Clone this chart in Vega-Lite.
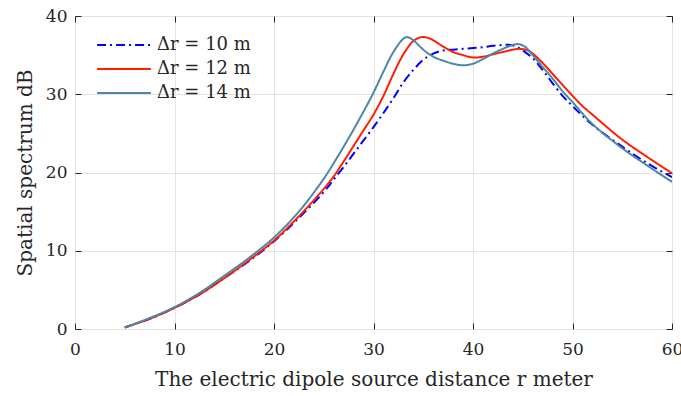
{
  "$schema": "https://vega.github.io/schema/vega-lite/v6.json",
  "autosize": "none",
  "width": 597,
  "height": 313,
  "padding": {"left": 75, "top": 16, "right": 9, "bottom": 67},
  "background": "white",
  "config": {
    "view": {"stroke": "#262626", "strokeWidth": 1},
    "font": "DejaVu Serif",
    "axis": {"labelFont": "DejaVu Serif", "titleFont": "DejaVu Serif", "labelColor": "#262626", "titleColor": "#262626", "titleFontWeight": "normal", "labelFontSize": 17, "titleFontSize": 20, "gridColor": "#e3e3e3", "gridWidth": 1, "domain": false, "tickColor": "#262626", "tickSize": -6, "labelFlush": false, "labelOverlap": false}
  },
  "datasets": {
    "curves": [
      {"r": 5, "s": 0.2, "series": "Δr = 10 m"},
      {"r": 7.5, "s": 1.3, "series": "Δr = 10 m"},
      {"r": 10, "s": 2.7, "series": "Δr = 10 m"},
      {"r": 12.5, "s": 4.4, "series": "Δr = 10 m"},
      {"r": 15, "s": 6.5, "series": "Δr = 10 m"},
      {"r": 17.5, "s": 8.7, "series": "Δr = 10 m"},
      {"r": 20, "s": 11.2, "series": "Δr = 10 m"},
      {"r": 22.5, "s": 14.2, "series": "Δr = 10 m"},
      {"r": 25, "s": 17.5, "series": "Δr = 10 m"},
      {"r": 26, "s": 19.1, "series": "Δr = 10 m"},
      {"r": 27, "s": 20.7, "series": "Δr = 10 m"},
      {"r": 28, "s": 22.4, "series": "Δr = 10 m"},
      {"r": 29, "s": 24.1, "series": "Δr = 10 m"},
      {"r": 30, "s": 25.8, "series": "Δr = 10 m"},
      {"r": 31, "s": 27.6, "series": "Δr = 10 m"},
      {"r": 32, "s": 29.5, "series": "Δr = 10 m"},
      {"r": 33, "s": 31.5, "series": "Δr = 10 m"},
      {"r": 34, "s": 33.1, "series": "Δr = 10 m"},
      {"r": 35, "s": 34.4, "series": "Δr = 10 m"},
      {"r": 36, "s": 35.2, "series": "Δr = 10 m"},
      {"r": 37, "s": 35.6, "series": "Δr = 10 m"},
      {"r": 38, "s": 35.7, "series": "Δr = 10 m"},
      {"r": 39, "s": 35.8, "series": "Δr = 10 m"},
      {"r": 40, "s": 35.9, "series": "Δr = 10 m"},
      {"r": 41, "s": 36.0, "series": "Δr = 10 m"},
      {"r": 42, "s": 36.2, "series": "Δr = 10 m"},
      {"r": 43, "s": 36.3, "series": "Δr = 10 m"},
      {"r": 43.8, "s": 36.3, "series": "Δr = 10 m"},
      {"r": 44.5, "s": 36.0, "series": "Δr = 10 m"},
      {"r": 45, "s": 35.6, "series": "Δr = 10 m"},
      {"r": 46, "s": 34.6, "series": "Δr = 10 m"},
      {"r": 47, "s": 33.1, "series": "Δr = 10 m"},
      {"r": 48, "s": 31.4, "series": "Δr = 10 m"},
      {"r": 49, "s": 29.8, "series": "Δr = 10 m"},
      {"r": 50, "s": 28.5, "series": "Δr = 10 m"},
      {"r": 52, "s": 26.1, "series": "Δr = 10 m"},
      {"r": 55, "s": 23.3, "series": "Δr = 10 m"},
      {"r": 57.5, "s": 21.2, "series": "Δr = 10 m"},
      {"r": 60, "s": 19.4, "series": "Δr = 10 m"},

      {"r": 5, "s": 0.2, "series": "Δr = 12 m"},
      {"r": 7.5, "s": 1.3, "series": "Δr = 12 m"},
      {"r": 10, "s": 2.7, "series": "Δr = 12 m"},
      {"r": 12.5, "s": 4.4, "series": "Δr = 12 m"},
      {"r": 15, "s": 6.5, "series": "Δr = 12 m"},
      {"r": 17.5, "s": 8.8, "series": "Δr = 12 m"},
      {"r": 20, "s": 11.3, "series": "Δr = 12 m"},
      {"r": 22.5, "s": 14.4, "series": "Δr = 12 m"},
      {"r": 25, "s": 17.9, "series": "Δr = 12 m"},
      {"r": 26, "s": 19.5, "series": "Δr = 12 m"},
      {"r": 27, "s": 21.4, "series": "Δr = 12 m"},
      {"r": 28, "s": 23.4, "series": "Δr = 12 m"},
      {"r": 29, "s": 25.4, "series": "Δr = 12 m"},
      {"r": 30, "s": 27.4, "series": "Δr = 12 m"},
      {"r": 31, "s": 29.8, "series": "Δr = 12 m"},
      {"r": 32, "s": 32.6, "series": "Δr = 12 m"},
      {"r": 33, "s": 35.1, "series": "Δr = 12 m"},
      {"r": 34, "s": 36.8, "series": "Δr = 12 m"},
      {"r": 34.8, "s": 37.3, "series": "Δr = 12 m"},
      {"r": 35.5, "s": 37.2, "series": "Δr = 12 m"},
      {"r": 36, "s": 36.9, "series": "Δr = 12 m"},
      {"r": 37, "s": 36.1, "series": "Δr = 12 m"},
      {"r": 38, "s": 35.4, "series": "Δr = 12 m"},
      {"r": 39, "s": 35.0, "series": "Δr = 12 m"},
      {"r": 40, "s": 34.7, "series": "Δr = 12 m"},
      {"r": 41, "s": 34.8, "series": "Δr = 12 m"},
      {"r": 42, "s": 35.1, "series": "Δr = 12 m"},
      {"r": 43, "s": 35.4, "series": "Δr = 12 m"},
      {"r": 44, "s": 35.7, "series": "Δr = 12 m"},
      {"r": 44.7, "s": 35.8, "series": "Δr = 12 m"},
      {"r": 45.5, "s": 35.6, "series": "Δr = 12 m"},
      {"r": 46, "s": 35.2, "series": "Δr = 12 m"},
      {"r": 47, "s": 34.0, "series": "Δr = 12 m"},
      {"r": 48, "s": 32.6, "series": "Δr = 12 m"},
      {"r": 49, "s": 31.2, "series": "Δr = 12 m"},
      {"r": 50, "s": 29.8, "series": "Δr = 12 m"},
      {"r": 51, "s": 28.5, "series": "Δr = 12 m"},
      {"r": 52, "s": 27.4, "series": "Δr = 12 m"},
      {"r": 55, "s": 24.2, "series": "Δr = 12 m"},
      {"r": 57.5, "s": 22.0, "series": "Δr = 12 m"},
      {"r": 60, "s": 19.9, "series": "Δr = 12 m"},

      {"r": 5, "s": 0.2, "series": "Δr = 14 m"},
      {"r": 7.5, "s": 1.4, "series": "Δr = 14 m"},
      {"r": 10, "s": 2.8, "series": "Δr = 14 m"},
      {"r": 12.5, "s": 4.6, "series": "Δr = 14 m"},
      {"r": 15, "s": 6.8, "series": "Δr = 14 m"},
      {"r": 17.5, "s": 9.1, "series": "Δr = 14 m"},
      {"r": 20, "s": 11.7, "series": "Δr = 14 m"},
      {"r": 22.5, "s": 15.0, "series": "Δr = 14 m"},
      {"r": 25, "s": 19.2, "series": "Δr = 14 m"},
      {"r": 26, "s": 21.2, "series": "Δr = 14 m"},
      {"r": 27, "s": 23.3, "series": "Δr = 14 m"},
      {"r": 28, "s": 25.5, "series": "Δr = 14 m"},
      {"r": 29, "s": 27.8, "series": "Δr = 14 m"},
      {"r": 30, "s": 30.2, "series": "Δr = 14 m"},
      {"r": 31, "s": 32.9, "series": "Δr = 14 m"},
      {"r": 32, "s": 35.4, "series": "Δr = 14 m"},
      {"r": 33, "s": 37.1, "series": "Δr = 14 m"},
      {"r": 33.4, "s": 37.3, "series": "Δr = 14 m"},
      {"r": 34, "s": 36.9, "series": "Δr = 14 m"},
      {"r": 35, "s": 35.7, "series": "Δr = 14 m"},
      {"r": 36, "s": 34.8, "series": "Δr = 14 m"},
      {"r": 37, "s": 34.3, "series": "Δr = 14 m"},
      {"r": 38, "s": 33.9, "series": "Δr = 14 m"},
      {"r": 39, "s": 33.7, "series": "Δr = 14 m"},
      {"r": 40, "s": 33.9, "series": "Δr = 14 m"},
      {"r": 41, "s": 34.5, "series": "Δr = 14 m"},
      {"r": 42, "s": 35.2, "series": "Δr = 14 m"},
      {"r": 43, "s": 35.8, "series": "Δr = 14 m"},
      {"r": 44, "s": 36.3, "series": "Δr = 14 m"},
      {"r": 44.6, "s": 36.4, "series": "Δr = 14 m"},
      {"r": 45.2, "s": 36.1, "series": "Δr = 14 m"},
      {"r": 46, "s": 35.0, "series": "Δr = 14 m"},
      {"r": 47, "s": 33.5, "series": "Δr = 14 m"},
      {"r": 48, "s": 32.0, "series": "Δr = 14 m"},
      {"r": 49, "s": 30.4, "series": "Δr = 14 m"},
      {"r": 50, "s": 29.0, "series": "Δr = 14 m"},
      {"r": 52, "s": 26.2, "series": "Δr = 14 m"},
      {"r": 55, "s": 23.1, "series": "Δr = 14 m"},
      {"r": 57.5, "s": 20.9, "series": "Δr = 14 m"},
      {"r": 60, "s": 18.8, "series": "Δr = 14 m"}
    ]
  },
  "data": {"name": "curves"},
  "layer": [
    {
      "mark": {"type": "line", "interpolate": "catmull-rom", "strokeWidth": 2, "clip": true},
      "encoding": {
        "x": {"field": "r", "type": "quantitative", "scale": {"domain": [0, 60], "nice": false, "zero": false},
          "axis": {"values": [0, 10, 20, 30, 40, 50, 60], "title": "The electric dipole source distance r meter", "labelPadding": 18, "titlePadding": 12, "orient": "bottom"}},
        "y": {"field": "s", "type": "quantitative", "scale": {"domain": [0, 40], "nice": false},
          "axis": {"values": [0, 10, 20, 30, 40], "title": "Spatial spectrum dB", "labelPadding": 14, "titlePadding": 10, "orient": "left"}},
        "color": {"field": "series", "type": "nominal",
          "scale": {"domain": ["Δr = 10 m", "Δr = 12 m", "Δr = 14 m"], "range": ["#0000ff", "#ff1f00", "#4b87a6"]},
          "legend": {"title": null, "orient": "none", "legendX": 21, "legendY": 20, "symbolType": "stroke", "symbolSize": 2900, "symbolStrokeWidth": 2, "clipHeight": 18, "labelFontSize": 18, "labelFont": "DejaVu Serif", "labelColor": "#262626", "rowPadding": 6, "labelOffset": 5}},
        "strokeDash": {"field": "series", "type": "nominal",
          "scale": {"domain": ["Δr = 10 m", "Δr = 12 m", "Δr = 14 m"], "range": [[9, 4, 2, 4], [1, 0], [1, 0]]},
          "legend": {"title": null, "orient": "none", "legendX": 21, "legendY": 20, "symbolType": "stroke", "symbolSize": 2900, "symbolStrokeWidth": 2, "clipHeight": 18, "labelFontSize": 18, "labelFont": "DejaVu Serif", "labelColor": "#262626", "rowPadding": 6, "labelOffset": 5}}
      }
    },
    {
      "mark": {"type": "rule", "opacity": 0},
      "encoding": {
        "x": {"field": "r", "type": "quantitative", "scale": {"domain": [0, 60], "nice": false, "zero": false},
          "axis": {"orient": "top", "values": [0, 10, 20, 30, 40, 50, 60], "labels": false, "grid": false, "title": null}},
        "y": {"field": "s", "type": "quantitative", "scale": {"domain": [0, 40], "nice": false},
          "axis": {"orient": "right", "values": [0, 10, 20, 30, 40], "labels": false, "grid": false, "title": null}}
      }
    }
  ],
  "resolve": {"axis": {"x": "independent", "y": "independent"}}
}
